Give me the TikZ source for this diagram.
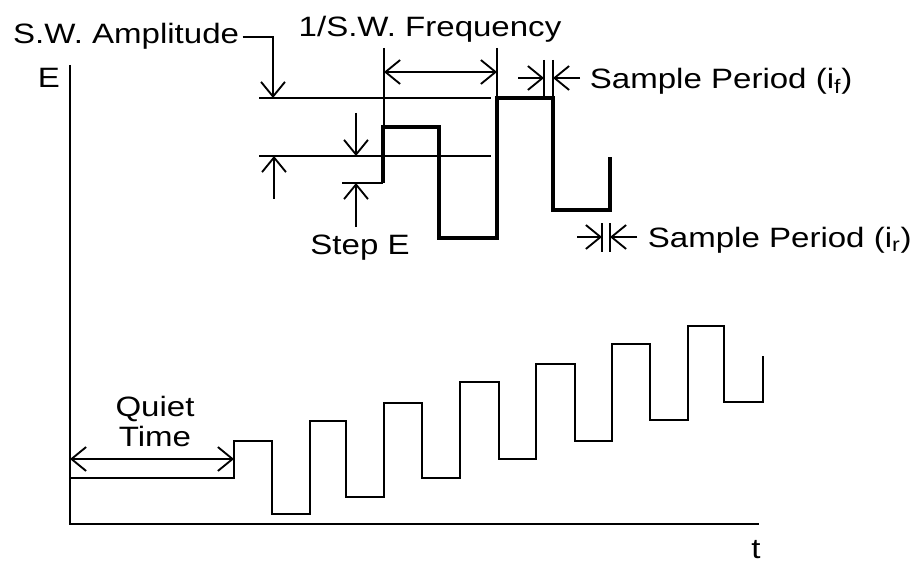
\documentclass[tikz,border=0pt]{standalone}
\usepackage{fontspec}
\setmainfont{Liberation Sans}[FakeStretch=1.18]
\usetikzlibrary{arrows.meta}

\begin{document}
\begin{tikzpicture}[x = 0.75pt, y = -0.75pt, line width = 1.4pt,
                      >={Straight Barb[length=11pt,width=18pt]},
                      wave/.style = {line width = 3pt},
                      lbl/.style = {inner sep = 0pt, font = \fontsize{21}{22.5}\selectfont}]
    \useasboundingbox (0, 0) rectangle (910, 563);

    % axes
    \coordinate (top) at (70, 65);
    \coordinate (origin) at (70, 524);
    \coordinate (tend) at (759, 524);
    \draw (top) -- (origin) -- (tend);
    \node [lbl, anchor=base] (E) at (49, 88) {E};
    \node [lbl, anchor=base] (t) at (756, 558) {t};

    % staircase square wave
    \draw (70, 478) -- (234, 478) -- (234, 441) -- (272, 441) -- (272, 514) -- (310, 514)
          -- (310, 421) -- (346, 421) -- (346, 497) -- (384, 497) -- (384, 403) -- (422, 403)
          -- (422, 478) -- (460, 478) -- (460, 382) -- (499, 382) -- (499, 459) -- (536, 459)
          -- (536, 364) -- (575, 364) -- (575, 441) -- (612, 441) -- (612, 344) -- (650, 344)
          -- (650, 420) -- (688, 420) -- (688, 326) -- (724, 326) -- (724, 402) -- (763, 402)
          -- (763, 356);
    \coordinate (q1) at (70, 459);
    \coordinate (q2) at (234, 459);
    \draw[<->] (q1) -- (q2);
    \node [lbl, align=center, anchor=south] (quiet) at (155, 448) {Quiet\\Time};

    % enlarged detail
    \draw [wave] (383, 183) -- (383, 127) -- (439, 127) -- (439, 238) -- (497, 238)
          -- (497, 98) -- (553, 98) -- (553, 210) -- (610, 210) -- (610, 157);
    \coordinate (hi1) at (259, 98);
    \coordinate (hi2) at (491, 98);
    \coordinate (mid1) at (259, 156);
    \coordinate (mid2) at (491, 156);
    \draw (hi1) -- (hi2);
    \draw (mid1) -- (mid2);

    \node [lbl, anchor=base east] (amp) at (240, 44) {S.W. Amplitude};
    \coordinate (amptip) at (273, 98);
    \coordinate (amplow) at (274, 199);
    \coordinate (amplowtip) at (274, 156);
    \draw[->] ([xshift=2pt]amp.east) -| (amptip);
    \draw[->] (amplow) -- (amplowtip);

    \coordinate (s0) at (342, 183);
    \coordinate (s1) at (383, 183);
    \coordinate (sa) at (356, 113);
    \coordinate (sb) at (356, 156);
    \coordinate (sc) at (356, 227);
    \coordinate (sd) at (356, 183);
    \draw (s0) -- (s1);
    \draw[->] (sa) -- (sb);
    \draw[->] (sc) -- (sd);
    \node [lbl, anchor=base] (step) at (360, 254) {Step E};

    \coordinate (f1) at (384, 48);
    \coordinate (f2) at (384, 127);
    \coordinate (f3) at (497, 48);
    \coordinate (f4) at (497, 98);
    \coordinate (fa) at (384, 72);
    \coordinate (fb) at (497, 72);
    \draw (f1) -- (f2);
    \draw (f3) -- (f4);
    \draw[<->] (fa) -- (fb);
    \node [lbl, anchor=base] (freq) at (430, 37) {1/S.W. Frequency};

    \coordinate (pf1) at (544, 60);
    \coordinate (pf2) at (544, 98);
    \coordinate (pf3) at (553, 60);
    \coordinate (pf4) at (553, 98);
    \coordinate (pfa) at (518, 78);
    \coordinate (pfb) at (544, 78);
    \coordinate (pfc) at (580, 78);
    \coordinate (pfd) at (553, 78);
    \draw (pf1) -- (pf2);
    \draw (pf3) -- (pf4);
    \draw[->] (pfa) -- (pfb);
    \draw[->] (pfc) -- (pfd);
    \node [lbl, anchor=base west] (spf) at (589, 89) {Sample Period (i\textsubscript{f})};

    \coordinate (pr1) at (602, 223);
    \coordinate (pr2) at (602, 252);
    \coordinate (pr3) at (610, 223);
    \coordinate (pr4) at (610, 252);
    \coordinate (pra) at (577, 237);
    \coordinate (prb) at (602, 237);
    \coordinate (prc) at (637, 237);
    \coordinate (prd) at (610, 237);
    \draw (pr1) -- (pr2);
    \draw (pr3) -- (pr4);
    \draw[->] (pra) -- (prb);
    \draw[->] (prc) -- (prd);
    \node [lbl, anchor=base west] (spr) at (647, 247) {Sample Period (i\textsubscript{r})};
\end{tikzpicture}
\end{document}
